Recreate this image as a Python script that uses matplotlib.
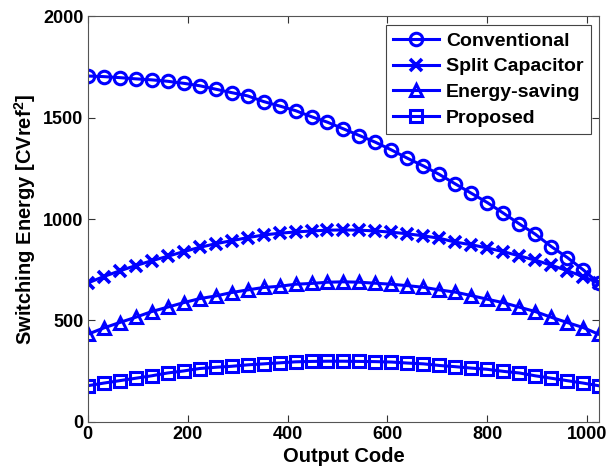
import matplotlib

matplotlib.use("Agg")
import matplotlib.pyplot as plt
import numpy as np

plt.rcParams["font.family"] = ["Liberation Sans", "DejaVu Sans"]
plt.rcParams["font.weight"] = "bold"
plt.rcParams["mathtext.fontset"] = "custom"
plt.rcParams["mathtext.rm"] = "Liberation Sans"
plt.rcParams["mathtext.bf"] = "Liberation Sans:bold"

# output codes where the curves are sampled (every 32 codes)
CODES = [0, 32, 64, 96, 128, 160, 192, 224, 256, 288, 320, 352, 384, 416, 448, 480,
         512, 544, 576, 608, 640, 672, 704, 736, 768, 800, 832, 864, 896, 928, 960, 992, 1023]

CONVENTIONAL = [1706, 1703, 1698, 1692, 1687, 1680, 1670, 1658, 1641, 1624, 1608, 1580,
                1558, 1535, 1505, 1478, 1445, 1412, 1379, 1341, 1300, 1262, 1220, 1173,
                1127, 1081, 1029, 976, 925, 864, 810, 749, 683]
SPLIT_CAP = [684, 716, 744, 770, 794, 816, 839, 860, 878, 893, 908, 921,
             930, 936, 941, 945, 946, 945, 941, 935, 927, 917, 905, 886,
             873, 857, 839, 818, 797, 772, 745, 716, 683]
ENERGY_SAVING = [431, 462, 489, 515, 543, 565, 587, 607, 620, 637, 650, 662,
                 668, 678, 682, 688, 690, 688, 683, 678, 671, 663, 650, 639,
                 622, 604, 587, 565, 543, 515, 489, 464, 431]
PROPOSED = [177, 190, 202, 214, 226, 240, 250, 262, 268, 273, 280, 285,
            290, 295, 297, 298, 298, 297, 296, 294, 289, 285, 277, 271,
            264, 258, 248, 240, 226, 214, 202, 190, 177]

SERIES = [
    ("Conventional", CONVENTIONAL, "o"),
    ("Split Capacitor", SPLIT_CAP, "x"),
    ("Energy-saving", ENERGY_SAVING, "^"),
    ("Proposed", PROPOSED, "s"),
]

fig = plt.figure(figsize=(6.09, 4.70), dpi=100)
ax = fig.add_axes([0.144, 0.103, 0.840, 0.862])

for name, vals, mk in SERIES:
    ax.plot(CODES, vals, color="#0000ff", linewidth=2.2, marker=mk,
            markersize=9, markerfacecolor="none",
            markeredgewidth=2.2 if mk != "x" else 2.6, label=name)

ax.set_xlim(0, 1024)
ax.set_ylim(0, 2000)
ax.set_xticks([0, 200, 400, 600, 800, 1000])
ax.set_yticks([0, 500, 1000, 1500, 2000])
ax.tick_params(direction="in", top=True, right=True, length=5, width=0.8,
               labelsize=13, pad=3, color="#333333")
for lab in ax.get_xticklabels() + ax.get_yticklabels():
    lab.set_fontweight("bold")
for sp in ax.spines.values():
    sp.set_color("#555555")
    sp.set_linewidth(0.8)

ax.set_xlabel("Output Code", fontsize=14.5, fontweight="bold", labelpad=3)
ax.set_ylabel(r"Switching Energy [CVref$^\mathbf{2}$]", fontsize=14.5,
              fontweight="bold", labelpad=4)

leg = ax.legend(loc="upper right", fontsize=14, handlelength=2.4,
                borderaxespad=0.45, fancybox=False, framealpha=1,
                labelspacing=0.42, handletextpad=0.35, borderpad=0.35)
leg.get_frame().set_edgecolor("#444444")
leg.get_frame().set_linewidth(0.8)
for t in leg.get_texts():
    t.set_fontweight("bold")

fig.savefig("out.png", dpi=100)
